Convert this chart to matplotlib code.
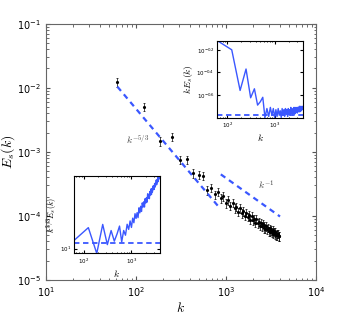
import matplotlib
matplotlib.use("Agg")
import matplotlib.pyplot as plt
import numpy as np
from matplotlib.ticker import NullLocator, FixedLocator, FixedFormatter, NullFormatter

# wavenumbers (regular grid) and the measured spectrum E_s(k)
k = np.arange(1, 64) * 62.5
E = np.array([
    121.4, 50.5, 14.69, 17.06, 7.59, 7.60, 4.67, 4.38, 4.26, 2.536,
    2.771, 2.163, 2.400, 1.897, 2.032, 1.585, 1.752, 1.442, 1.604, 1.328,
    1.387, 1.153, 1.325, 1.107, 1.192, 0.998, 1.129, 0.970, 1.027, 0.865,
    0.983, 0.849, 0.903, 0.781, 0.891, 0.772, 0.805, 0.699, 0.782, 0.695,
    0.761, 0.647, 0.709, 0.632, 0.693, 0.618, 0.649, 0.579, 0.637, 0.569,
    0.598, 0.560, 0.602, 0.527, 0.567, 0.520, 0.560, 0.502, 0.529, 0.497,
    0.523, 0.481, 0.484]) * 1e-4
rel_err = 0.15

# reference power laws (end points)
k_53 = np.array([62.5, 830.0])
E_53 = 1.04e-2 * (k_53 / 62.5) ** (-5.0 / 3.0)
k_m1 = np.array([880.0, 4000.0])
E_m1 = 4.45e-4 * (k_m1 / 880.0) ** (-1.0)

# flat levels drawn in the insets
level_kE = 0.168
level_k53E = 11.35

blue = "#3a57ff"

fig = plt.figure(figsize=(3.49, 3.16), dpi=100)
ax = fig.add_axes([0.131, 0.114, 0.774, 0.811])

ax.errorbar(k, E, yerr=rel_err * E, fmt='.', color='black', ms=2.5,
            elinewidth=0.5, capsize=1.0, capthick=0.5)
ax.plot(k_53, E_53, '--', color=blue, lw=1.6, dashes=(2.5, 2.0))
ax.plot(k_m1, E_m1, '--', color=blue, lw=1.6, dashes=(2.5, 2.0))

ax.set_xscale('log')
ax.set_yscale('log')
ax.set_xlim(10, 1e4)
ax.set_ylim(1e-5, 1e-1)
ax.tick_params(which='both', direction='in', top=True, right=True,
               labelsize=7, color='#555555')
ax.tick_params(which='major', length=3)
ax.tick_params(which='minor', length=1.8)
for s in ax.spines.values():
    s.set_color('#666666')
    s.set_linewidth(0.8)

ax.set_xlabel('$k$', fontsize=10, math_fontfamily='cm', labelpad=2)
ax.set_ylabel('$E_s(k)$', fontsize=10, math_fontfamily='cm')
ax.yaxis.set_label_coords(-0.105, 0.5)

ax.text(78, 1.58e-3, '$k^{-5/3}$', fontsize=7, color='#444444',
        math_fontfamily='cm', ha='left', va='center')
ax.text(2286, 3.0e-4, '$k^{-1}$', fontsize=7, color='#444444',
        math_fontfamily='cm', ha='left', va='center')

# inset: k E_s(k)
kE = k * E
ax1 = fig.add_axes([0.623, 0.628, 0.245, 0.243])
ax1.plot(k, kE, '-', color=blue, lw=1.0)
ax1.axhline(level_kE, color=blue, lw=1.3, ls='--', dashes=(3, 2))
ax1.set_xscale('log')
ax1.set_yscale('log')
ax1.set_xlim(k.min(), k.max())
ax1.set_ylim(kE.min(), kE.max())
ax1.yaxis.set_major_locator(FixedLocator([10 ** -0.8, 10 ** -0.6, 10 ** -0.4, 10 ** -0.2]))
ax1.yaxis.set_major_formatter(FixedFormatter(['$10^{-0.8}$', '$10^{-0.6}$', '$10^{-0.4}$', '$10^{-0.2}$']))
ax1.yaxis.set_minor_locator(NullLocator())
ax1.xaxis.set_minor_formatter(NullFormatter())
ax1.tick_params(which='both', direction='in', labelsize=4, top=True, right=True, pad=2)
ax1.tick_params(which='major', length=2)
ax1.tick_params(which='minor', length=1)
ax1.set_xlabel('$k$', fontsize=7, math_fontfamily='cm', labelpad=2)
ax1.set_ylabel('$kE_s(k)$', fontsize=7, math_fontfamily='cm', labelpad=1)

# inset: k^{5/3} E_s(k)
k53E = k ** (5.0 / 3.0) * E
ax2 = fig.add_axes([0.212, 0.198, 0.246, 0.246])
ax2.plot(k, k53E, '-', color=blue, lw=1.0)
ax2.axhline(level_k53E, color=blue, lw=1.3, ls='--', dashes=(3, 2))
ax2.set_xscale('log')
ax2.set_yscale('log')
ax2.set_xlim(k.min(), k.max())
ax2.set_ylim(k53E.min(), k53E.max())
ax2.yaxis.set_major_locator(FixedLocator([10.0]))
ax2.yaxis.set_major_formatter(FixedFormatter(['$10^{1}$']))
ax2.yaxis.set_minor_locator(NullLocator())
ax2.xaxis.set_minor_formatter(NullFormatter())
ax2.tick_params(which='both', direction='in', labelsize=4, top=True, right=True, pad=2)
ax2.tick_params(which='major', length=2)
ax2.tick_params(which='minor', length=1)
ax2.set_xlabel('$k$', fontsize=7, math_fontfamily='cm', labelpad=2)
ax2.set_ylabel('$k^{5/3}E_s(k)$', fontsize=6, math_fontfamily='cm', labelpad=1)

fig.savefig('out.png', dpi=100)
